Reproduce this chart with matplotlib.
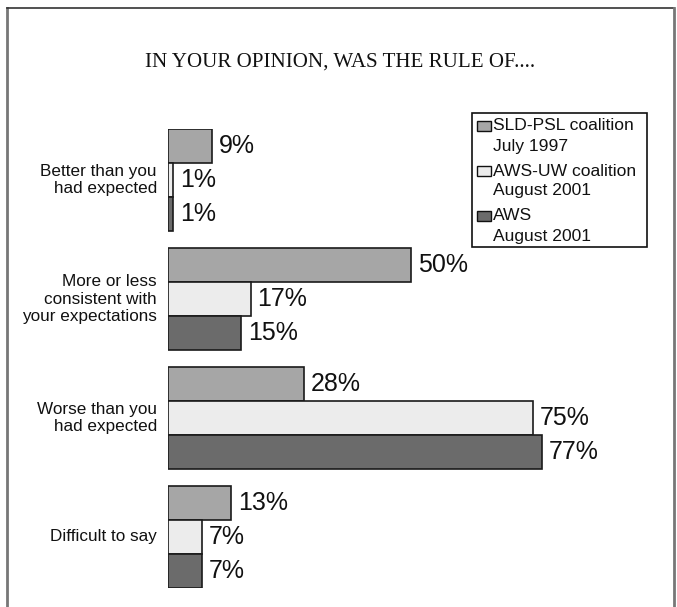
import matplotlib
matplotlib.use("Agg")
import matplotlib.pyplot as plt
from matplotlib.patches import Rectangle
import numpy as np

categories = ["Better than you\nhad expected",
              "More or less\nconsistent with\nyour expectations",
              "Worse than you\nhad expected",
              "Difficult to say"]
series_names = ["SLD-PSL coalition\nJuly 1997",
                "AWS-UW coalition\nAugust 2001",
                "AWS\nAugust 2001"]
sld_psl_1997 = [9, 50, 28, 13]
aws_uw_2001 = [1, 17, 75, 7]
aws_2001 = [1, 15, 77, 7]
series_values = [sld_psl_1997, aws_uw_2001, aws_2001]
colors = ["#a6a6a6", "#ececec", "#6b6b6b"]
title = "IN YOUR OPINION, WAS THE RULE OF...."

W, H = 677, 607
fig = plt.figure(figsize=(W / 100, H / 100), dpi=100)
fig.patch.set_facecolor("white")

# outer frame
fig.add_artist(plt.Line2D([7 / W, 7 / W], [0, 1 - 8 / H], color="#777777", lw=2))
fig.add_artist(plt.Line2D([7 / W, 674 / W], [1 - 8 / H, 1 - 8 / H], color="#333333", lw=1.2))
fig.add_artist(plt.Line2D([674 / W, 674 / W], [0, 1 - 8 / H], color="#777777", lw=2))

px_per = 4.86
ax_left, ax_right = 168, 168 + px_per * 100
ax_top, ax_bottom = 129, 588
ax = fig.add_axes([ax_left / W, 1 - ax_bottom / H, (ax_right - ax_left) / W,
                   (ax_bottom - ax_top) / H])
ax.set_xlim(0, 100)
group_gap = 3.5
centers = np.arange(len(categories)) * group_gap
ax.set_ylim(centers[-1] + 1.5, centers[0] - 1.5)
ax.axis("off")

for j, vals in enumerate(series_values):
    ys = centers + (j - 1)
    ax.barh(ys, vals, height=1.0, color=colors[j], edgecolor="#1a1a1a", linewidth=1.2)
    for y, v in zip(ys, vals):
        ax.annotate(f"{v}%", (v, y), xytext=(5, 0), textcoords="offset points",
                    ha="left", va="center", fontsize=18, family="Liberation Sans",
                    color="#111111")

for c, lab in zip(centers, categories):
    ax.annotate(lab, (0, c), xytext=(-8, 0), textcoords="offset points",
                ha="right", va="center", fontsize=12.3, family="Liberation Sans",
                linespacing=1.2, color="#111111")

fig.text(0.5 * (7 + 674) / W, 1 - 62 / H, title, ha="center", va="center",
         fontsize=15.1, family="Liberation Serif", color="#111111")

# legend drawn manually
lx0, ly0, lx1, ly1 = 472, 113, 647, 247
fig.add_artist(Rectangle((lx0 / W, 1 - ly1 / H), (lx1 - lx0) / W, (ly1 - ly0) / H,
                         transform=fig.transFigure, facecolor="white",
                         edgecolor="#111111", lw=1.2))
entry_y = [126, 171, 216]
for name, col, ey in zip(series_names, colors, entry_y):
    fig.add_artist(Rectangle((477 / W, 1 - (ey + 5) / H), 14 / W, 10 / H,
                             transform=fig.transFigure, facecolor=col,
                             edgecolor="#111111", lw=1))
    first, second = name.split("\n")
    fig.text(493 / W, 1 - ey / H, first, ha="left", va="center", fontsize=12.6,
             family="Liberation Sans", color="#111111")
    fig.text(493 / W, 1 - (ey + 20) / H, second, ha="left", va="center", fontsize=12.6,
             family="Liberation Sans", color="#111111")

fig.savefig("out.png", dpi=100)
